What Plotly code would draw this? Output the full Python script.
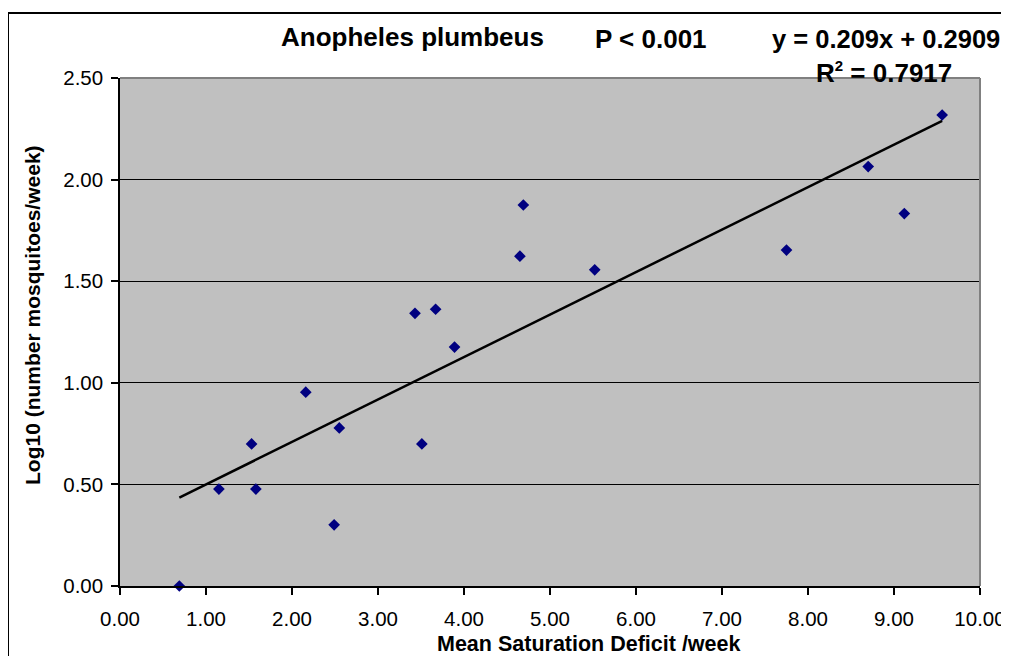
import numpy as np
import plotly.graph_objects as go

# ---- data ----
sat_deficit = [0.69, 1.15, 1.53, 1.58, 2.16, 2.49, 2.55, 3.43, 3.51, 3.67,
               3.89, 4.65, 4.69, 5.52, 7.75, 8.70, 9.12, 9.56]
log_mosq = [0.000, 0.477, 0.699, 0.477, 0.954, 0.301, 0.778, 1.342, 0.699, 1.362,
            1.176, 1.623, 1.875, 1.556, 1.653, 2.064, 1.833, 2.318]
slope = 0.209
intercept = 0.2909
r_squared = 0.7917
species = "Anopheles plumbeus"
p_text = "P < 0.001"
x_title = "Mean Saturation Deficit /week"
y_title = "Log10 (number mosquitoes/week)"

# page body has an 8px margin; work in screenshot pixels and shift by OFF
OFF = 8
W, H = 1009 - OFF, 664 - 2 * OFF
PL, PR, PT, PB = 120, 980, 78, 586          # plot area in screenshot pixels
L, T = PL - OFF, PT - OFF
R, B = W - (PR - OFF), H - (PB - OFF)
PW, PH = PR - PL, PB - PT

def px(xp):
    return (xp - PL) / PW

def py(yp):
    return (PB - yp) / PH

FONT = "Arial, Liberation Sans, sans-serif"

trend_x = np.array([min(sat_deficit), max(sat_deficit)])
trend_y = slope * trend_x + intercept

fig = go.Figure()
fig.add_trace(go.Scatter(
    x=trend_x, y=trend_y, mode="lines",
    line=dict(color="black", width=2.5), hoverinfo="skip", showlegend=False))
fig.add_trace(go.Scatter(
    x=sat_deficit, y=log_mosq, mode="markers",
    marker=dict(symbol="diamond", size=9, color="#000080", line=dict(width=0)),
    showlegend=False, cliponaxis=False))

fig.update_layout(
    width=W, height=H,
    margin=dict(l=L, r=R, t=T, b=B, pad=0, autoexpand=False),
    paper_bgcolor="white", plot_bgcolor="#C0C0C0",
    font=dict(family=FONT, color="black", size=20),
    showlegend=False,
)
fig.update_xaxes(
    range=[0, 10], dtick=1, tick0=0, tickformat=".2f",
    showgrid=False, zeroline=False, automargin=False,
    showline=True, linecolor="black", linewidth=1.5,
    ticks="outside", ticklen=7, tickwidth=1.5, tickcolor="black",
    ticklabelstandoff=7, ticklabeloverflow="allow",
    tickfont=dict(size=20.5, family=FONT, color="black"),
)
fig.update_yaxes(
    range=[0, 2.5], dtick=0.5, tick0=0, tickformat=".2f",
    showgrid=True, gridcolor="black", gridwidth=1.2, zeroline=False,
    automargin=False,
    showline=True, linecolor="black", linewidth=1.5,
    ticks="outside", ticklen=7, tickwidth=1.5, tickcolor="black",
    ticklabelstandoff=4,
    tickfont=dict(size=20.5, family=FONT, color="black"),
)

shapes = [
    # gray top and right plot border
    dict(type="line", xref="x domain", yref="y domain", x0=0, x1=1, y0=1, y1=1,
         line=dict(color="#808080", width=2), layer="above"),
    dict(type="line", xref="x domain", yref="y domain", x0=1, x1=1, y0=0, y1=1,
         line=dict(color="#808080", width=2), layer="above"),
    # outer chart frame
    dict(type="rect", xref="paper", yref="paper",
         x0=px(8), x1=px(1030), y0=py(690), y1=py(13),
         line=dict(color="black", width=2), fillcolor="rgba(0,0,0,0)", layer="above"),
]
fig.update_layout(shapes=shapes)

ann = [
    dict(text=f"<b>{species}</b>", x=px(412), y=py(37), size=26),
    dict(text=f"<b>{p_text}</b>", x=px(651), y=py(39), size=26),
    dict(text=f"<b>y = {slope}x + {intercept}</b>", x=px(886), y=py(39), size=25.5),
    dict(text=f"<b>R<sup><span style='font-size:15px'>2</span></sup> = {r_squared}</b>",
         x=px(884), y=py(72), size=26),
    dict(text=f"<b>{x_title}</b>", x=px(589), y=py(644), size=21.5),
]
annotations = []
for a in ann:
    annotations.append(dict(
        text=a["text"], x=a["x"], y=a["y"], xref="paper", yref="paper",
        xanchor="center", yanchor="middle", showarrow=False,
        font=dict(family=FONT, size=a["size"], color="black")))
annotations.append(dict(
    text=f"<b>{y_title}</b>", x=px(32), y=py(315), xref="paper", yref="paper",
    xanchor="center", yanchor="middle", showarrow=False, textangle=-90,
    font=dict(family=FONT, size=21, color="black")))
fig.update_layout(annotations=annotations)

fig.write_html("out.html")
